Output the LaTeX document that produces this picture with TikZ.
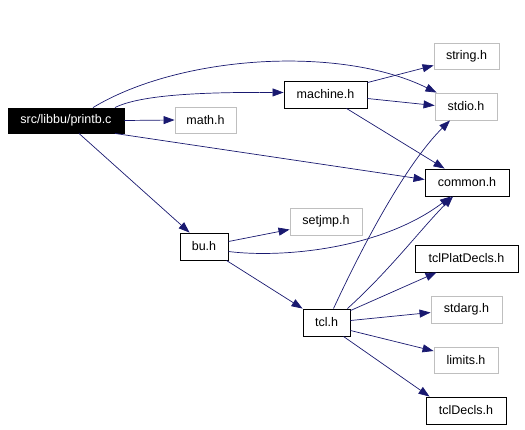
\documentclass[tikz,border=0pt]{standalone}
\usepackage{fontspec}
\setmainfont{Liberation Sans}
\usetikzlibrary{arrows.meta,calc}
\definecolor{edgec}{HTML}{191970}
\definecolor{grayb}{HTML}{BFBFBF}
\begin{document}
\begin{tikzpicture}[x=1pt,y=-1pt,
  box/.style={draw=black,line width=0.9pt,inner sep=0pt,font=\fontsize{12.5}{14}\selectfont},
  gbox/.style={box,draw=grayb},
  dep/.style={draw=edgec,line width=0.7pt,-{Triangle[length=11pt,width=8pt]}}]
\useasboundingbox (0,0) rectangle (525,429);
\node[box,fill=black,text=white,minimum width=116pt,minimum height=25pt] (printb) at (66,120.5) {src/libbu/printb.c};
\node[gbox,minimum width=61pt,minimum height=26pt] (math) at (205.5,120) {math.h};
\node[box,minimum width=83pt,minimum height=27pt] (machine) at (325.5,94.5) {machine.h};
\node[gbox,minimum width=65pt,minimum height=26pt] (string) at (466.5,56) {string.h};
\node[gbox,minimum width=62pt,minimum height=27pt] (stdio) at (466,106.5) {stdio.h};
\node[box,minimum width=84pt,minimum height=27pt] (common) at (467,182.5) {common.h};
\node[gbox,minimum width=72pt,minimum height=27pt] (setjmp) at (326,221.5) {setjmp.h};
\node[box,minimum width=48pt,minimum height=27pt] (bu) at (204,246.5) {bu.h};
\node[box,minimum width=103pt,minimum height=27pt] (tclplat) at (466.5,258.5) {tclPlatDecls.h};
\node[box,minimum width=47pt,minimum height=27pt] (tcl) at (326.5,322.5) {tcl.h};
\node[gbox,minimum width=71pt,minimum height=27pt] (stdarg) at (466.5,309.5) {stdarg.h};
\node[gbox,minimum width=64pt,minimum height=26pt] (limits) at (466,360) {limits.h};
\node[box,minimum width=80pt,minimum height=27pt] (tcldecls) at (466,410.5) {tclDecls.h};
% edges from printb
\draw[dep] ($(printb.north)+(27,0)$) .. controls (180,55) and (340,45) .. ($(stdio.north west)+(2,0)$);
\draw[dep] ($(printb.north)+(49,0)$) .. controls (140,95) and (200,92) .. ($(machine.west)+(0,-2)$);
\draw[dep] (printb.east) -- (math.west);
\draw[dep] ($(printb.south)+(49,0)$) -- ($(common.west)+(0,-3)$);
\draw[dep] ($(printb.south)+(13,0)$) -- ($(bu.north west)+(10,0)$);
% machine
\draw[dep] ($(machine.north east)+(0,2)$) -- ($(string.south west)+(0,-4)$);
\draw[dep] ($(machine.east)+(0,4)$) -- ($(stdio.west)+(0,-1)$);
\draw[dep] ($(machine.south)+(21,0)$) -- ($(common.north west)+(20,0)$);
% bu
\draw[dep] ($(bu.east)+(0,-5)$) -- ($(setjmp.west)+(0,8)$);
\draw[dep] ($(bu.east)+(0,5)$) .. controls (280,258) and (380,250) .. ($(common.south)+(-16,0)$);
\draw[dep] ($(bu.south east)+(-2,0)$) -- ($(tcl.north west)+(0,0)$);
% tcl
\draw[dep] ($(tcl.north)+(7,0)$) .. controls (370,230) and (410,160) .. ($(stdio.south)+(-16,0)$);
\draw[dep] ($(tcl.north east)+(-3,0)$) .. controls (390,270) and (420,230) .. ($(common.south)+(-14,0)$);
\draw[dep] ($(tcl.north east)+(0,2)$) -- ($(tclplat.south west)+(22,0)$);
\draw[dep] ($(tcl.east)+(0,-2)$) -- ($(stdarg.west)+(0,3)$);
\draw[dep] ($(tcl.east)+(0,8)$) -- ($(limits.west)+(0,-9)$);
\draw[dep] ($(tcl.south east)+(-7,0)$) -- ($(tcldecls.north west)+(4,0)$);
\end{tikzpicture}
\end{document}
